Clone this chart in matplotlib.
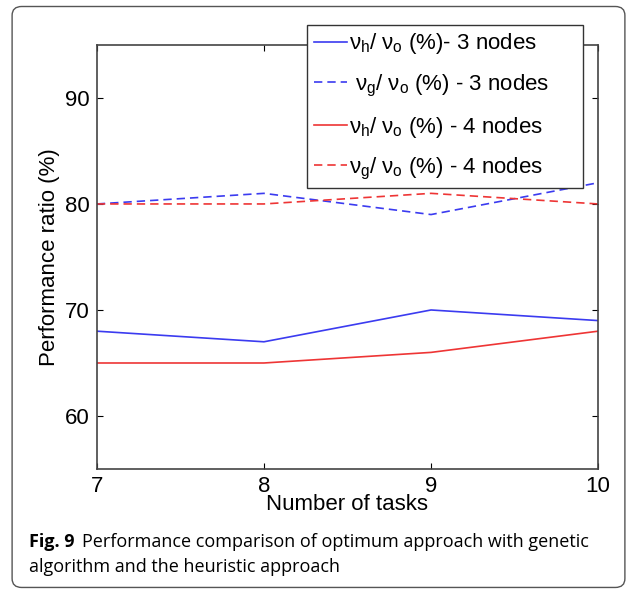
import matplotlib.pyplot as plt
from matplotlib.patches import FancyBboxPatch

tasks = [7, 8, 9, 10]
h_3nodes = [68, 67, 70, 69]
g_3nodes = [80, 81, 79, 82]
h_4nodes = [65, 65, 66, 68]
g_4nodes = [80, 80, 81, 80]
labels = [r'$\nu_h$/ $\nu_o$ (%)- 3 nodes',
          r' $\nu_g$/ $\nu_o$ (%) - 3 nodes',
          r'$\nu_h$/ $\nu_o$ (%) - 4 nodes',
          r'$\nu_g$/ $\nu_o$ (%) - 4 nodes']

plt.rcParams['font.family'] = ['Liberation Sans', 'DejaVu Sans']
plt.rcParams['mathtext.fontset'] = 'custom'
plt.rcParams['mathtext.rm'] = 'Liberation Sans'
plt.rcParams['mathtext.it'] = 'Liberation Sans'

fig = plt.figure(figsize=(6.37, 5.91), dpi=100)

box = FancyBboxPatch((0.019, 0.006), 0.962, 0.983, boxstyle='round,pad=0,rounding_size=0.015',
                     transform=fig.transFigure, facecolor='white', edgecolor='#555555',
                     lw=1.0, zorder=-10)
fig.patches.append(box)

ax = fig.add_axes([0.152, 0.2064, 0.787, 0.7176])
ax.patch.set_alpha(0)
blue = '#3b3bf0'
red = '#ee3535'
l1, = ax.plot(tasks, h_3nodes, color=blue, lw=1.2)
l2, = ax.plot(tasks, g_3nodes, color=blue, lw=1.2, ls=(0, (5, 3)))
l3, = ax.plot(tasks, h_4nodes, color=red, lw=1.2)
l4, = ax.plot(tasks, g_4nodes, color=red, lw=1.2, ls=(0, (5, 3)))

ax.set_xlim(7, 10)
ax.set_ylim(55, 95)
ax.set_xticks([7, 8, 9, 10])
ax.set_yticks([60, 70, 80, 90])
ax.tick_params(direction='in', top=True, right=True, labelsize=16, length=4, pad=5)
for s in ax.spines.values():
    s.set_color('#444444')
    s.set_linewidth(1.2)
ax.set_xlabel('Number of tasks', fontsize=16, labelpad=-2)
ax.set_ylabel('Performance ratio (%)', fontsize=16, labelpad=4)

leg = fig.legend([l1, l2, l3, l4], labels, loc='upper left', mode='expand',
                 bbox_to_anchor=(0.482, 0.958, 0.433, 0), fontsize=16, handlelength=1.5,
                 handletextpad=0.1, borderaxespad=0, borderpad=0.3, labelspacing=0.72,
                 fancybox=False, framealpha=1, edgecolor='#333333')
leg.get_frame().set_linewidth(1.0)

fig.text(0.046, 0.0745, 'Fig. 9', fontsize=13, fontweight='bold', family='Open Sans')
fig.text(0.128, 0.0745, 'Performance comparison of optimum approach with genetic',
         fontsize=13, family='Open Sans')
fig.text(0.046, 0.032, 'algorithm and the heuristic approach', fontsize=13, family='Open Sans')

fig.savefig('out.png', dpi=100)
